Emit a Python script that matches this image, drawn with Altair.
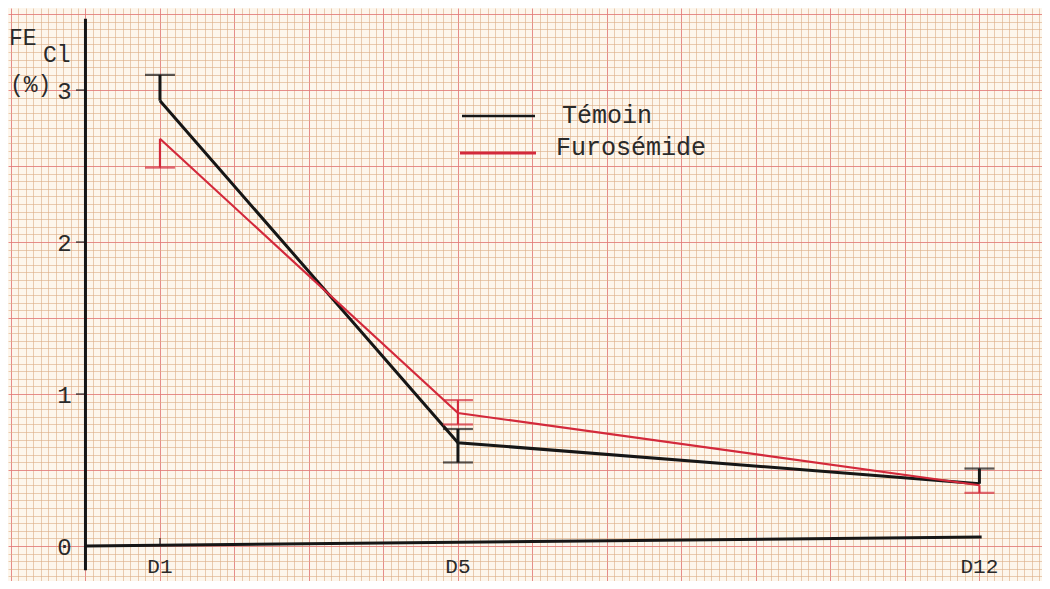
import altair as alt
import pandas as pd
import numpy as np

# ---- data ----
series_names = ["Témoin", "Furosémide"]
days = [1, 5, 12]
day_labels = ["D1", "D5", "D12"]
temoin = [2.93, 0.68, 0.41]
furosemide = [2.68, 0.875, 0.40]

# error bars (vertical segments)
bar_series = ["Témoin", "Témoin", "Témoin", "Furosémide", "Furosémide", "Furosémide"]
bar_day = [1, 5, 12, 1, 5, 12]
bar_low = [2.93, 0.55, 0.41, 2.49, 0.80, 0.35]
bar_high = [3.10, 0.77, 0.51, 2.68, 0.96, 0.40]

# error bar caps
cap_series = ["Témoin", "Témoin", "Témoin", "Témoin",
              "Furosémide", "Furosémide", "Furosémide", "Furosémide"]
cap_day = [1, 5, 5, 12, 1, 5, 5, 12]
cap_value = [3.10, 0.55, 0.77, 0.51, 2.49, 0.96, 0.80, 0.35]

y_ticks = [0, 1, 2, 3]

FONT = "Liberation Mono"
BLACK = "#161616"
RED = "#d3293b"
PAPER = "#fdf6ec"

lines_df = pd.DataFrame({
    "day": days * 2,
    "value": temoin + furosemide,
    "series": [series_names[0]] * 3 + [series_names[1]] * 3,
})
bars_df = pd.DataFrame({"day": bar_day, "low": bar_low, "high": bar_high, "series": bar_series})
caps_df = pd.DataFrame({"day": cap_day, "value": cap_value, "series": cap_series})
xlab_df = pd.DataFrame({"day": days, "label": day_labels})
ylab_df = pd.DataFrame({"v": y_ticks, "label": [str(t) for t in y_ticks]})
one = pd.DataFrame({"a": [0]})

sx = alt.Scale(domain=[-1.04, 12.84], nice=False, zero=False)
sy = alt.Scale(domain=[-0.23, 3.54], nice=False, zero=False)

grid_x = np.round(np.arange(-1.0, 12.85, 0.1), 2).tolist()
grid_y = np.round(np.arange(-0.2, 3.55, 0.05), 3).tolist()

ax_x = alt.Axis(values=grid_x, grid=True, labels=False, ticks=False, domain=False, title=None,
                labelOverlap=False, tickCount=len(grid_x),
                gridColor={"condition": {"test": "abs(datum.value - round(datum.value)) < 0.001",
                                         "value": "#e27a78"}, "value": "#dcae86"},
                gridOpacity={"condition": {"test": "abs(datum.value - round(datum.value)) < 0.001",
                                           "value": 0.85}, "value": 0.6},
                gridWidth=1)
ax_y = alt.Axis(values=grid_y, grid=True, labels=False, ticks=False, domain=False, title=None,
                labelOverlap=False, tickCount=len(grid_y),
                gridColor={"condition": {"test": "abs(datum.value*2 - round(datum.value*2)) < 0.001",
                                         "value": "#e27a78"}, "value": "#dcae86"},
                gridOpacity={"condition": {"test": "abs(datum.value*2 - round(datum.value*2)) < 0.001",
                                           "value": 0.85}, "value": 0.6},
                gridWidth=1)

color = alt.Color("series:N", scale=alt.Scale(domain=series_names, range=[BLACK, RED]), legend=None)
sw = alt.StrokeWidth("series:N", scale=alt.Scale(domain=series_names, range=[3, 2.2]), legend=None)

lines = alt.Chart(lines_df).mark_line().encode(
    x=alt.X("day:Q", scale=sx, axis=ax_x),
    y=alt.Y("value:Q", scale=sy, axis=ax_y),
    color=color, strokeWidth=sw,
    detail="series:N",
)

bars = alt.Chart(bars_df).mark_rule().encode(
    x=alt.X("day:Q", scale=sx, axis=ax_x),
    y=alt.Y("low:Q", scale=sy, axis=ax_y),
    y2="high:Q",
    color=color, strokeWidth=sw,
)

caps = alt.Chart(caps_df).mark_tick(orient="horizontal", size=30, thickness=2.2).encode(
    x=alt.X("day:Q", scale=sx, axis=ax_x),
    y=alt.Y("value:Q", scale=sy, axis=ax_y),
    color=color,
)

# hand-drawn axes
y_axis_line = alt.Chart(one).mark_rule(color=BLACK, strokeWidth=3).encode(
    x=alt.datum(0), y=alt.datum(-0.16), y2=alt.datum(3.47))
x_axis_line = alt.Chart(one).mark_rule(color=BLACK, strokeWidth=3).encode(
    x=alt.datum(0), x2=alt.datum(12.03), y=alt.datum(0), y2=alt.datum(0.06))

y_tick_marks = alt.Chart(ylab_df[ylab_df.v > 0]).mark_tick(
    orient="horizontal", size=9, thickness=1.6, color=BLACK).encode(
    x=alt.datum(0), y=alt.Y("v:Q", scale=sy, axis=ax_y), xOffset=alt.value(-5))

x_tick_marks = alt.Chart(xlab_df[xlab_df.day == 1]).mark_tick(
    orient="vertical", size=8, thickness=1.6, color=BLACK).encode(
    x=alt.X("day:Q", scale=sx, axis=ax_x), y=alt.datum(0), yOffset=alt.value(-4))

y_labels = alt.Chart(ylab_df).mark_text(
    font=FONT, fontSize=24, color="#2a2a2a", align="center", baseline="middle", dx=-21, dy=2).encode(
    x=alt.datum(0), y=alt.Y("v:Q", scale=sy, axis=ax_y), text="label:N")

x_labels = alt.Chart(xlab_df).mark_text(
    font=FONT, fontSize=21, color="#2a2a2a", align="center", baseline="middle", dy=21).encode(
    x=alt.X("day:Q", scale=sx, axis=ax_x), y=alt.datum(0), text="label:N")

# axis title  FE_Cl (%)
t_fe = alt.Chart(one).mark_text(font=FONT, fontSize=23, color="#2a2a2a", align="left",
                                baseline="alphabetic").encode(
    x=alt.value(1), y=alt.value(37), text=alt.value("FE"))
t_cl = alt.Chart(one).mark_text(font=FONT, fontSize=23, color="#2a2a2a", align="left",
                                baseline="alphabetic").encode(
    x=alt.value(35), y=alt.value(54), text=alt.value("Cl"))
t_pct = alt.Chart(one).mark_text(font=FONT, fontSize=23, color="#2a2a2a", align="left",
                                 baseline="alphabetic").encode(
    x=alt.value(2), y=alt.value(84), text=alt.value("(%)"))

# hand-drawn legend
leg_rule_1 = alt.Chart(one).mark_rule(color=BLACK, strokeWidth=2.5).encode(
    x=alt.value(454), x2=alt.value(527), y=alt.value(108))
leg_rule_2 = alt.Chart(one).mark_rule(color=RED, strokeWidth=3).encode(
    x=alt.value(452), x2=alt.value(528), y=alt.value(145))
leg_t1 = alt.Chart(one).mark_text(font=FONT, fontSize=25, color="#2a2a2a", align="left",
                                  baseline="middle").encode(
    x=alt.value(554), y=alt.value(107), text=alt.value(series_names[0]))
leg_t2 = alt.Chart(one).mark_text(font=FONT, fontSize=25, color="#2a2a2a", align="left",
                                  baseline="middle").encode(
    x=alt.value(548), y=alt.value(139), text=alt.value(series_names[1]))

chart = alt.layer(
    lines, bars, caps, y_axis_line, x_axis_line, y_tick_marks, x_tick_marks,
    y_labels, x_labels, t_fe, t_cl, t_pct, leg_rule_1, leg_rule_2, leg_t1, leg_t2,
).properties(
    width=1034, height=573, padding=0, autosize=alt.AutoSizeParams(type="none"),
    background=PAPER,
).configure_view(stroke=None, fill=PAPER)

chart.save("out.html", embed_options={"renderer": "svg", "actions": False})
